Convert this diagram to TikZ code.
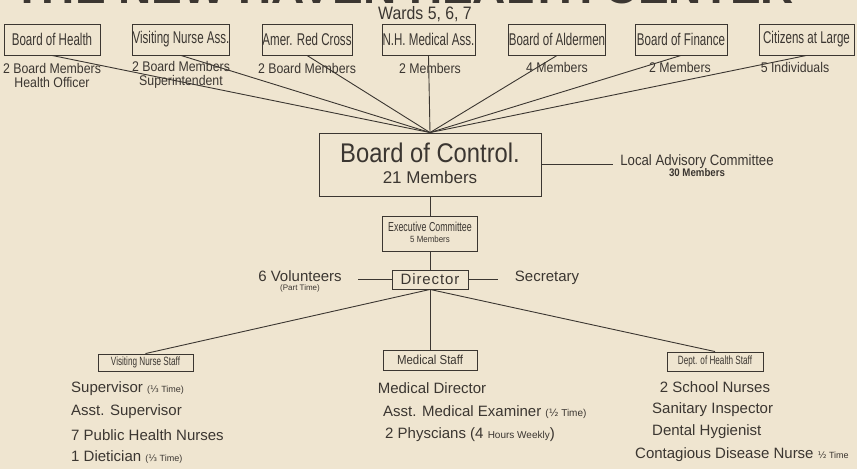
\documentclass[tikz,border=0pt]{standalone}
\usepackage{fontspec}
\setmainfont{Liberation Sans}
\newfontfamily\handf[FakeStretch=0.88]{Liberation Sans}
\newfontfamily\narrowf[FakeStretch=0.68]{Liberation Sans}
\newfontfamily\djv{DejaVu Sans}
\newcommand\myfs[1]{\fontsize{#1}{#1}\selectfont}
\definecolor{bgc}{HTML}{EFE5D0}
\definecolor{ink}{HTML}{3B3631}
\begin{document}
\begin{tikzpicture}[x=1pt,y=-1pt,
  box/.style={draw=ink, line width=0.9pt, inner sep=0pt, text=ink},
  topbox/.style={box, minimum height=31pt, font=\narrowf\myfs{17}},
  sub/.style={text=ink, inner sep=0pt, font=\handf\myfs{14}, align=center},
  txt/.style={text=ink, inner sep=0pt, font=\myfs{15}},
  conn/.style={draw=ink, line width=0.9pt}]
\fill[bgc] (0,0) rectangle (857,469);
\useasboundingbox (0,0) rectangle (857,469);
% title (cut off at top, as in the original)
\node[text=ink, inner sep=0pt, anchor=base, font=\bfseries\myfs{46}] (title) at (404,3.5) {THE NEW HAVEN HEALTH CENTER};
\node[text=ink, inner sep=0pt, font=\handf\myfs{18}] (wards) at (425,14) {Wards 5, 6, 7};
% top boxes
\node[topbox, minimum width=96pt] (boh) at (52,39.5) {Board of Health};
\node[topbox, minimum width=96pt] (vna) at (181,39.5) {Visiting Nurse Ass.};
\node[topbox, minimum width=90pt] (arc) at (307,39.5) {Amer. Red Cross};
\node[topbox, minimum width=93pt] (nhm) at (428.5,39.5) {N.H. Medical Ass.};
\node[topbox, minimum width=96pt] (ald) at (557,39.5) {Board of Aldermen};
\node[topbox, minimum width=92pt] (fin) at (681,39.5) {Board of Finance};
\node[topbox, minimum width=95pt] (cit) at (806.5,39.5) {Citizens at Large};
% sub labels
\node[sub] (bohs) at (52,75) {2 Board Members\\[0pt]Health Officer};
\node[sub] (vnas) at (181,75) {2 Board Members\\[0pt]Superintendent};
\node[sub] (arcs) at (307,68) {2 Board Members};
\node[sub] (nhms) at (430,68) {2 Members};
\node[sub] (alds) at (557,67) {4 Members};
\node[sub] (fins) at (680,67) {2 Members};
\node[sub] (cits) at (795,67) {5 Individuals};
% board of control
\node[box, minimum width=222pt, minimum height=63pt] (boc) at (430,164.5) {};
\node[text=ink, inner sep=0pt, font=\handf\myfs{27}] (boct) at (430,153) {Board of Control.};
\node[text=ink, inner sep=0pt, font=\myfs{17}] (bocm) at (430,177) {21 Members};
\foreach \n in {boh,vna,arc,nhm,ald,fin,cit} \draw[conn] (\n.south) -- (boc.north);
% local advisory committee
\coordinate (lacw) at (613,164.5);
\node[sub, font=\handf\myfs{15}] (lac) at (697,162) {Local Advisory Committee};
\node[sub, font=\bfseries\handf\myfs{11}] (lacm) at (697,173) {30 Members};
\draw[conn] (boc.east) -- (lacw);
% executive committee
\node[box, minimum width=95pt, minimum height=35pt] (exec) at (430,233.5) {};
\node[text=ink, inner sep=0pt, font=\narrowf\myfs{13}] (exect) at (430,227) {Executive Committee};
\node[text=ink, inner sep=0pt, font=\handf\myfs{9}] (execm) at (430,239) {5 Members};
\draw[conn] (boc.south) -- (exec.north);
% director
\node[box, minimum width=76pt, minimum height=19pt, font=\myfs{15}] (dir) at (430,279.5) {\addfontfeatures{LetterSpace=6}Director};
\draw[conn] (exec.south) -- (dir.north);
\coordinate (volE) at (358,279.5);
\coordinate (secW) at (498,279.5);
\node[txt] (vol) at (300,276) {6 Volunteers};
\node[txt, font=\myfs{8}] (volpt) at (300,288) {(Part Time)};
\node[txt] (sec) at (547,278) {Secretary};
\draw[conn] (dir.west) -- (volE);
\draw[conn] (dir.east) -- (secW);
% staff boxes
\node[box, minimum width=95pt, minimum height=17pt, font=\narrowf\myfs{12}] (vns) at (145.5,362.5) {Visiting Nurse Staff};
\node[box, minimum width=94pt, minimum height=20pt, font=\handf\myfs{13}] (med) at (430,360) {Medical Staff};
\node[box, minimum width=96pt, minimum height=19pt, font=\narrowf\myfs{12}] (doh) at (715,361.5) {Dept. of Health Staff};
\draw[conn] (dir.south) -- (vns.north);
\draw[conn] (dir.south) -- (med.north);
\draw[conn] (dir.south) -- (doh.north);
% visiting nurse staff list
\node[txt, anchor=west] (vns1) at (71,389) {Supervisor {\myfs{9}(\djv ⅓\normalfont\myfs{9} Time)}};
\node[txt, anchor=west] (vns2) at (71,412) {Asst. Supervisor};
\node[txt, anchor=west] (vns3) at (71,435) {7 Public Health Nurses};
\node[txt, anchor=west] (vns4) at (71,457) {1 Dietician {\myfs{9}(\djv ⅓\normalfont\myfs{9} Time)}};
% medical staff list
\node[txt] (med1) at (432,388) {Medical Director};
\node[txt, anchor=west] (med2) at (383,412) {Asst. Medical Examiner {\myfs{10}(\djv ½\normalfont\myfs{10} Time)}};
\node[txt, anchor=west] (med3) at (385,435) {2 Physcians (4 {\myfs{10}Hours Weekly})};
% dept of health list
\node[txt] (doh1) at (715,387) {2 School Nurses};
\node[txt, anchor=west] (doh2) at (652,410) {Sanitary Inspector};
\node[txt, anchor=west] (doh3) at (652,432) {Dental Hygienist};
\node[txt, anchor=west] (doh4) at (635,455) {Contagious Disease Nurse {\myfs{9}\djv ½\normalfont\myfs{9} Time}};
\end{tikzpicture}
\end{document}
